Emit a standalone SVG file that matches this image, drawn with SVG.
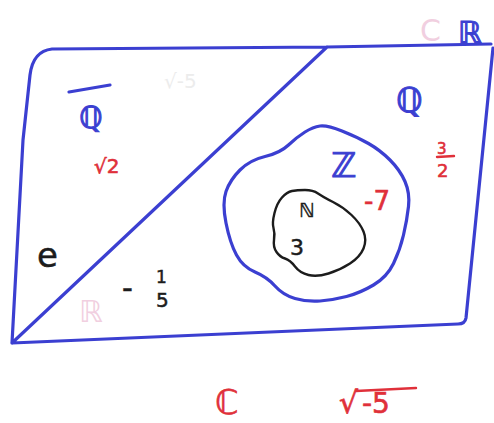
<svg xmlns="http://www.w3.org/2000/svg" width="494" height="423" viewBox="0 0 494 423">
<style>
.blue{fill:none;stroke:#3b3fd1;stroke-width:3.2;stroke-linecap:round;stroke-linejoin:round}
.blk{fill:none;stroke:#1c1c1c;stroke-width:2.4;stroke-linecap:round;stroke-linejoin:round}
.t{font-family:"DejaVu Sans",sans-serif}
.tb{fill:#3b3fd1;stroke:#3b3fd1;stroke-width:1}
.tr{fill:#e0303a;stroke:#e0303a;stroke-width:0.6}
.tk{fill:#1c1c1c;stroke:#1c1c1c;stroke-width:0.5}
.faint{fill:#f1cfe0}
</style>
<rect width="494" height="423" fill="#ffffff"/>
<g id="reals">
<path class="blue" d="M12 343 L23 140 L30 75 Q33 51 52 49 L327 47 L491 44 M493 48 L466 318 Q465 324 458 324 L12 343 M12 343 L327 47"/>
<text class="t tb" x="458" y="43" font-size="30">ℝ</text>
<text class="t faint" x="420" y="41" font-size="30">C</text>
</g>
<g id="irrationals">
<line class="blue" x1="69" y1="92" x2="110" y2="85"/>
<text class="t tb" x="79" y="128" font-size="30">ℚ</text>
<text class="t tr" x="94" y="173" font-size="20">√2</text>
<text class="t tk" x="37" y="267" font-size="34">e</text>
<text class="t" x="164" y="88" font-size="20" fill="#ececec">√-5</text>
<text class="t faint" x="79" y="322" font-size="30">ℝ</text>
</g>
<g id="rationals">
<text class="t tb" x="396" y="112" font-size="34">ℚ</text>
<text class="t tk" x="122" y="298" font-size="30">-</text>
<text class="t tk" x="156" y="283" font-size="17">1</text>
<text class="t tk" x="156" y="307" font-size="20">5</text>
<text class="t tr" x="437" y="154" font-size="15">3</text>
<line x1="437" y1="157" x2="454" y2="156" stroke="#e0303a" stroke-width="2.4" stroke-linecap="round"/>
<text class="t tr" x="437" y="177" font-size="18">2</text>
</g>
<g id="integers">
<path class="blue" d="M320 126 Q327 125 342 131 Q357 137 368.5 143.5 Q380 150 390 160 Q400 170 405 181.5 Q410 193 408.5 206.5 Q407 220 403.5 235 Q400 250 393.5 263.5 Q387 277 373.5 285 Q360 293 346.5 296.5 Q333 300 320 301 Q307 302 295 298.5 Q283 295 275 286 Q267 277 255 272 Q243 267 236.5 255 Q230 243 226 223 Q222 203 226 191.5 Q230 180 240 170 Q250 160 265 156.5 Q280 153 288.5 145 Q297 137 305 132 Q313 127 320 126 Z"/>
<text class="t tb" x="331" y="177" font-size="34">ℤ</text>
<text class="t tr" x="364" y="210" font-size="26">-7</text>
</g>
<g id="naturals">
<path class="blk" d="M305 190 Q313 190 318 193.5 Q323 197 333 202 Q343 207 351.5 215 Q360 223 363.5 231.5 Q367 240 363.5 248.5 Q360 257 350 263.5 Q340 270 328.5 273.5 Q317 277 308.5 275 Q300 273 295 266.5 Q290 260 285 258.5 Q280 257 276.5 252 Q273 247 274 240 Q275 233 273.5 228 Q272 223 274.5 213 Q277 203 282 197.5 Q287 192 292 191 Q297 190 305 190 Z"/>
<text class="t tk" x="299" y="217" font-size="19">ℕ</text>
<text class="t tk" x="290" y="255" font-size="22">3</text>
</g>
<g id="complex">
<text class="t tr" x="215" y="414" font-size="34">ℂ</text>
<text class="t tr" x="339" y="413" font-size="30">√</text>
<line x1="356" y1="391" x2="416" y2="388" stroke="#e0303a" stroke-width="2.4" stroke-linecap="round"/>
<text class="t tr" x="362" y="413" font-size="28">-5</text>
</g>
</svg>
